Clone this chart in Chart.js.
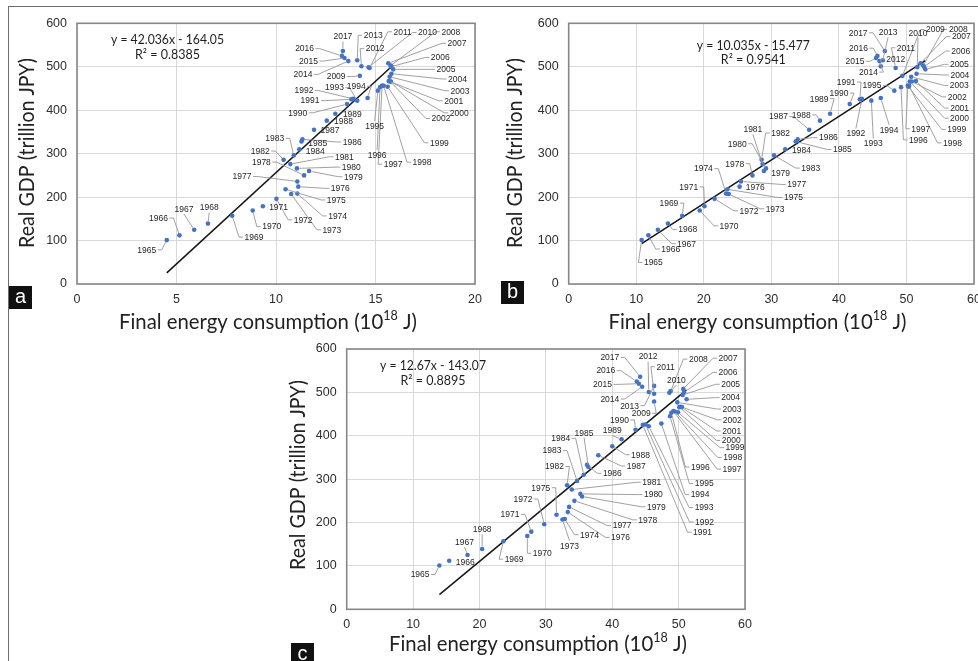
<!DOCTYPE html>
<html><head><meta charset="utf-8">
<script src="https://cdn.jsdelivr.net/npm/chart.js@4.4.1/dist/chart.umd.min.js"></script>
<style>
html,body{margin:0;padding:0;background:#fff;overflow:hidden;width:978px;height:661px;position:relative}
#frame{position:absolute;left:8px;top:6px;width:1000px;height:700px;border-left:1px solid #6d6d6d;border-top:1px solid #6d6d6d}
.wrap{position:absolute}
.tag{position:absolute;width:23px;height:23px;background:#111;color:#fff;font:20px "Liberation Sans",Arial,sans-serif;line-height:21px;text-align:center}
</style></head><body>
<div id="frame"></div>
<div class="wrap" style="left:0;top:0;width:490px;height:345px"><canvas id="ca" width="490" height="345"></canvas></div>
<div class="wrap" style="left:490px;top:0;width:500px;height:345px"><canvas id="cb" width="500" height="345"></canvas></div>
<div class="wrap" style="left:270px;top:330px;width:490px;height:331px"><canvas id="cc" width="490" height="331"></canvas></div>
<div class="tag" style="left:9px;top:286px">a</div>
<div class="tag" style="left:501px;top:281px">b</div>
<div class="tag" style="left:291px;top:643px">c</div>
<script>
// ---------- DATA ----------
const years = [1965,1966,1967,1968,1969,1970,1971,1972,1973,1974,
  1975,1976,1977,1978,1979,1980,1981,1982,1983,1984,
  1985,1986,1987,1988,1989,1990,1991,1992,1993,1994,
  1995,1996,1997,1998,1999,2000,2001,2002,2003,2004,
  2005,2006,2007,2008,2009,2010,2011,2012,2013,2014,
  2015,2016,2017];
// Real GDP (trillion JPY)
const gdp = [101,112,125,139,157,169,179,196,207,208,
  218,224,236,250,260,266,276,286,296,310,
  328,333,355,376,392,414,425,426,422,428,
  445,453,457,456,454,466,467,466,477,484,
  494,500,508,503,479,499,497,501,515,513,
  520,525,536];
// Final energy consumption (10^18 J), panel a
const energyA = [4.51,5.15,5.89,6.58,7.80,8.83,9.34,10.02,10.76,11.07,
  10.48,11.12,11.07,11.41,11.66,11.05,10.72,10.38,10.89,11.17,
  11.28,11.33,11.91,12.55,12.98,13.57,13.78,13.88,14.08,14.60,
  15.12,15.23,15.33,15.41,15.61,15.77,15.66,15.74,15.71,15.80,
  15.89,15.77,15.64,15.77,14.21,14.65,14.70,14.29,14.08,13.63,
  13.44,13.31,13.36];
// panel b
const energyB = [10.8,11.8,13.2,14.7,16.8,19.4,20.1,21.6,23.7,23.3,
  23.5,25.3,25.5,27.2,28.9,29.2,28.7,28.56,30.4,32.05,
  33.6,33.9,35.6,37.2,38.7,41.6,43.1,43.4,44.8,46.2,
  48.2,49.2,50.2,50.4,50.3,50.5,51.4,50.8,50.7,51.5,
  52.8,52.6,52.1,52.5,49.4,51.6,48.4,46.2,46.5,46.0,
  45.5,45.7,46.8];
// panel c
const energyC = [13.96,15.44,18.2,20.4,23.6,27.2,27.8,29.75,32.5,32.85,
  31.6,33.3,33.5,34.3,35.45,35.2,33.9,33.2,34.7,35.7,
  36.4,36.2,37.9,40.0,41.4,43.5,44.6,45.0,45.5,47.4,
  48.7,48.9,49.2,49.4,49.9,50.1,50.3,50.5,49.8,51.2,
  50.6,50.8,50.7,48.8,46.3,48.6,46.3,45.5,46.3,44.5,
  44.0,43.7,44.2];
const yTicks = [0,100,200,300,400,500,600];
const xTicksA = [0,5,10,15,20];
const xTicksBC = [0,10,20,30,40,50,60];
const slopeA = 42.036, interceptA = -164.05, eqA = 'y = 42.036x - 164.05', r2A = 'R² = 0.8385';
const slopeB = 10.035, interceptB = -15.477, eqB = 'y = 10.035x - 15.477', r2B = 'R² = 0.9541';
const slopeC = 12.67, interceptC = -143.07, eqC = 'y = 12.67x - 143.07', r2C = 'R² = 0.8895';
const yTitle = 'Real GDP (trillion JPY)';
const xTitleParts = ['Final energy consumption (10', '18', ' J)'];

// ---------- LAYOUT (label offsets in px from each point) ----------
const offA = [[-20,9.7],[-21,-17.3],[-10.3,-20.7],[1.3,-16],[21.7,21.3],[19,16],[15.7,1],[26.7,21],[40.7,35.7],[40.3,22.3],
 [50.7,10.7],[42,1.7],[-55.3,-5],[-42.7,-13.3],[44.3,5.7],[54.3,-1.3],[54,-7.3],[-23.3,-8.7],[-19,-17],[16,1.7],
 [16.3,1.3],[49.7,2.7],[16,0],[16.7,0.7],[17,0.7],[-49.3,8.7],[-41.3,1.3],[-49.3,-8.3],[-22.7,-13],[-11.3,-11.7],
 [-3.3,35.3],[-3,67.7],[11,78.7],[38.3,76.3],[51.7,56],[68.3,31.3],[65,19.7],[50.7,37],[70.3,14],[66,5.3],
 [52.7,0],[49.3,-9.3],[68.7,-20],[60,-33.7],[-23.7,0.7],[59,-34.7],[33,-36.3],[13.7,-17.7],[16,-25],[-45.3,13.3],
 [-36,3],[-37.3,-7.3],[0,-14.7]];
const offB = [[11.7,22.3],[22.3,13.7],[28.7,14],[19.7,6],[-13.3,-12.7],[29.3,15.3],[-15.7,-19.3],[34.3,12],[46.3,14.7],[-22.7,-25],
 [66,8.3],[15.7,0.3],[55.7,3],[-17.7,-11.7],[16.7,1.7],[-28.7,-24.7],[-9.7,-34.7],[19,-26.7],[36.7,12.7],[16.3,1.3],
 [46.7,8],[30.7,-1.7],[-30.7,-13.3],[-18.7,-5.7],[-11,-15],[-10.7,-11],[-13.7,-17.3],[-6,34.7],[2,43],[8.3,31.7],
 [-22.3,-5],[17.3,52.7],[13,43.3],[43.3,57],[48.3,42.7],[49.7,36.7],[43.7,27],[45.3,15.3],[48,8.7],[43.3,1.3],
 [34,-5],[36.7,-15.7],[40.7,-26.7],[35,-36],[33,-46.3],[0.7,-34.3],[10.3,-20.3],[15,-7],[5.3,-28],[-11,11],
 [-21,3.3],[-19,-7.7],[-26.7,-18.3]];
const offC = [[-19.3,9],[16,1.7],[-3,-13],[0,-19.7],[10.7,18],[15,17.3],[-21.3,-17.3],[-21.3,-25.3],[7,26.2],[24.7,15.7],
 [-15.7,-27],[52.7,25.3],[53,18.7],[73.3,19],[74.3,10.3],[73,0.7],[80,-7.3],[-12.7,-18.7],[-25,-30.3],[-23,-36.5],
 [-4.3,-34.3],[25.3,8.5],[38,10.7],[28.3,8.5],[-9.3,-8.7],[-16,-9.7],[59.7,107.3],[59,97.5],[55.3,81.3],[38.7,71],
 [34.3,67.3],[29,54.3],[58.7,58],[58,46],[57,35.3],[52,33.3],[51,24.3],[50.3,12.7],[54.7,6.7],[44,-1.7],
 [48,-10.7],[44,-20],[44.7,-30.7],[27.7,-32],[-12.8,11.8],[7,-12.8],[11.5,-27],[-0.7,-35.3],[-24.5,19.8],[-32.3,12.3],
 [-36.3,0.7],[-31,-10.9],[-30.3,-19.3]];

const LA = {canvas:'ca', left:77, top:23.3, right:8, bottom:61,
  yT:{x:27,y:153,len:190}, xT:{x:268,y:322,len:298}, eq:{x:167.5,y1:40,y2:54.3,w1:113,w2:65}};
const LB = {canvas:'cb', left:78.7, top:23.3, right:16, bottom:61,
  yT:{x:25,y:153,len:190}, xT:{x:267.5,y:322,len:298}, eq:{x:263.3,y1:45.7,y2:60,w1:113,w2:65}};
const LC = {canvas:'cc', left:76.7, top:19, right:8, bottom:51.7,
  yT:{x:28.3,y:145,len:190}, xT:{x:268,y:314,len:298}, eq:{x:163,y1:35.7,y2:50.7,w1:106,w2:65}};

const FONT = '"Liberation Sans", Arial, sans-serif';
const TFONT = 'Lato, "Open Sans", sans-serif';

function fitText(ctx, text, cx, cy, size, family, target, color){
  ctx.save();
  ctx.font = size + 'px ' + family;
  const w = ctx.measureText(text).width;
  let s = target / w; s = Math.max(0.7, Math.min(1.3, s));
  ctx.translate(cx, cy); ctx.scale(s, 1);
  ctx.fillStyle = color; ctx.textAlign = 'center'; ctx.textBaseline = 'middle';
  ctx.fillText(text, 0, 0);
  ctx.restore();
}
function xTitle(ctx, cx, cy, target){
  const big = 21, small = 13;
  ctx.save();
  ctx.font = big + 'px ' + TFONT; const w1 = ctx.measureText(xTitleParts[0]).width; const w3 = ctx.measureText(xTitleParts[2]).width;
  ctx.font = small + 'px ' + TFONT; const w2 = ctx.measureText(xTitleParts[1]).width;
  const tot = w1 + w2 + w3; let s = target / tot; s = Math.max(0.7, Math.min(1.3, s));
  ctx.translate(cx, cy); ctx.scale(s, 1);
  ctx.fillStyle = '#222'; ctx.textBaseline = 'middle'; ctx.textAlign = 'left';
  let x = -tot / 2;
  ctx.font = big + 'px ' + TFONT; ctx.fillText(xTitleParts[0], x, 0); x += w1;
  ctx.font = small + 'px ' + TFONT; ctx.fillText(xTitleParts[1], x, -6); x += w2;
  ctx.font = big + 'px ' + TFONT; ctx.fillText(xTitleParts[2], x, 0);
  ctx.restore();
}

function deco(L, eq, r2, offsets){
  return {
    id: 'deco',
    beforeDatasetsDraw(chart){
      const ctx = chart.ctx, a = chart.chartArea;
      ctx.save(); ctx.strokeStyle = '#878787'; ctx.lineWidth = 1.6;
      ctx.strokeRect(a.left, a.top, a.right - a.left, a.bottom - a.top);
      ctx.restore();
    },
    afterDatasetsDraw(chart){
      const ctx = chart.ctx;
      const meta = chart.getDatasetMeta(1);
      ctx.save();
      ctx.font = '8.5px ' + FONT;
      const boxes = years.map((yr, i) => {
        const el = meta.data[i];
        const t = String(yr);
        const w = ctx.measureText(t).width;
        return {t, px: el.x, py: el.y, cx: el.x + offsets[i][0], cy: el.y + offsets[i][1], w, h: 8};
      });
      ctx.strokeStyle = '#969696'; ctx.lineWidth = 0.9;
      boxes.forEach(b => {
        const l = b.cx - b.w/2, r = b.cx + b.w/2, t = b.cy - b.h/2, bo = b.cy + b.h/2;
        let sx, sy, stub = 0;
        if (b.px < l - 1) { sx = l - 1.5; sy = b.cy; stub = -4; }
        else if (b.px > r + 1) { sx = r + 1.5; sy = b.cy; stub = 4; }
        else { sx = b.cx; sy = b.py < b.cy ? t - 1 : bo + 1; }
        const ex = b.px - sx, ey = b.py - sy, d = Math.hypot(ex, ey);
        if (d < 7) return;
        ctx.beginPath(); ctx.moveTo(sx, sy);
        let qx = sx, qy = sy;
        if (stub) { qx = sx + stub; ctx.lineTo(qx, sy); }
        const dx = b.px - qx, dy = b.py - qy, dd = Math.hypot(dx, dy);
        ctx.lineTo(b.px - dx/dd*2.5, b.py - dy/dd*2.5);
        ctx.stroke();
      });
      ctx.fillStyle = '#262626'; ctx.textAlign = 'center'; ctx.textBaseline = 'middle';
      boxes.forEach(b => ctx.fillText(b.t, b.cx, b.cy + 0.5));
      ctx.restore();
    },
    afterDraw(chart){
      const ctx = chart.ctx;
      fitText(ctx, eq, L.eq.x, L.eq.y1, 13.5, TFONT, L.eq.w1, '#1f1f1f');
      fitText(ctx, r2, L.eq.x, L.eq.y2, 13.5, TFONT, L.eq.w2, '#1f1f1f');
      ctx.save(); ctx.translate(L.yT.x, L.yT.y); ctx.rotate(-Math.PI/2);
      fitText(ctx, yTitle, 0, 0, 21, TFONT, L.yT.len, '#222');
      ctx.restore();
      xTitle(ctx, L.xT.x, L.xT.y, L.xT.len);
    }
  };
}

function makePanel(L, energy, xTicks, slope, intercept, eq, r2, offsets){
  const pts = energy.map((e, i) => ({x: e, y: gdp[i]}));
  const xmin = Math.min(...energy), xmax = Math.max(...energy);
  const trend = [{x: xmin, y: slope*xmin + intercept}, {x: xmax, y: slope*xmax + intercept}];
  const tickFont = {family: FONT, size: 12.5};
  new Chart(document.getElementById(L.canvas), {
    type: 'scatter',
    data: {datasets: [
      {type: 'line', data: trend, borderColor: '#151515', borderWidth: 1.5, pointRadius: 0, fill: false, order: 2},
      {data: pts, backgroundColor: '#4472C4', borderWidth: 0, pointRadius: 2.3, order: 1}
    ]},
    options: {
      responsive: false, animation: false, devicePixelRatio: 1,
      layout: {padding: {left: 0, top: L.top, right: L.right, bottom: 0}},
      plugins: {legend: {display: false}, tooltip: {enabled: false}},
      scales: {
        x: {type: 'linear', min: 0, max: xTicks[xTicks.length-1],
          afterBuildTicks: s => { s.ticks = xTicks.map(v => ({value: v})); },
          afterFit: s => { s.height = L.bottom; },
          grid: {color: '#d9d9d9', drawTicks: false, lineWidth: 1},
          border: {display: false},
          ticks: {padding: 8, font: tickFont, color: '#2e2e2e', maxRotation: 0, autoSkip: false}},
        y: {type: 'linear', min: 0, max: 600,
          afterBuildTicks: s => { s.ticks = yTicks.map(v => ({value: v})); },
          afterFit: s => { s.width = L.left; },
          grid: {color: '#d9d9d9', drawTicks: false, lineWidth: 1},
          border: {display: false},
          ticks: {padding: 10, font: tickFont, color: '#2e2e2e', autoSkip: false}}
      }
    },
    plugins: [deco(L, eq, r2, offsets)]
  });
}

makePanel(LA, energyA, xTicksA, slopeA, interceptA, eqA, r2A, offA);
makePanel(LB, energyB, xTicksBC, slopeB, interceptB, eqB, r2B, offB);
makePanel(LC, energyC, xTicksBC, slopeC, interceptC, eqC, r2C, offC);
</script>
</body></html>
